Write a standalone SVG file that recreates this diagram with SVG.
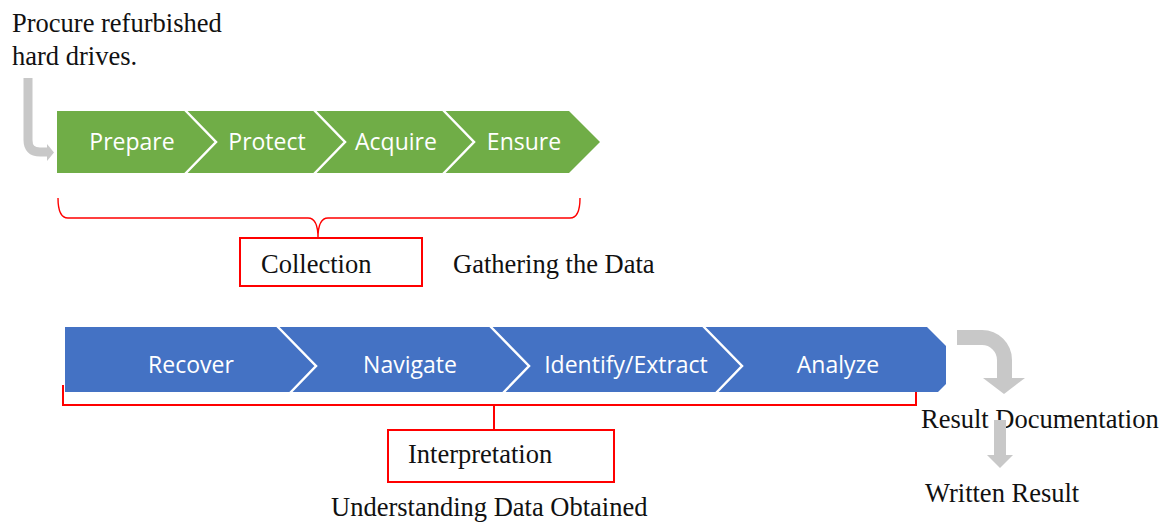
<svg xmlns="http://www.w3.org/2000/svg" width="1163" height="523" viewBox="0 0 1163 523">
  <style>
    .serif { font-family: "Liberation Serif", "Times New Roman", serif; font-size: 26.5px; fill: #111; }
    .step { font-family: "Open Sans", "Noto Sans", sans-serif; font-size: 23px; fill: #ffffff; text-anchor: middle; }
    .green { fill: #70AD47; }
    .blue { fill: #4472C4; }
    .sep { fill: none; stroke: #ffffff; stroke-width: 2.5; stroke-linejoin: miter; }
    .red { fill: none; stroke: #ff0000; stroke-width: 2; }
    .brace { fill: none; stroke: #ff0000; stroke-width: 1.4; }
    .gray { fill: none; stroke: #c8c8c8; }
    .grayfill { fill: #c8c8c8; }
  </style>

  <rect width="1163" height="523" fill="#ffffff"/>

  <!-- starting note -->
  <g id="procure">
    <text class="serif" x="12" y="32">Procure refurbished</text>
    <text class="serif" x="12" y="65">hard drives.</text>
  </g>

  <!-- collection process: green chevrons -->
  <g id="prepare">
    <polygon class="green" points="57,111 185,111 216,142 185,173 57,173"/>
    <text class="step" x="132" y="150">Prepare</text>
  </g>
  <g id="protect">
    <polygon class="green" points="185,111 314,111 345,142 314,173 185,173 216,142"/>
    <text class="step" x="267" y="150">Protect</text>
  </g>
  <g id="acquire">
    <polygon class="green" points="314,111 443,111 474,142 443,173 314,173 345,142"/>
    <text class="step" x="396" y="150">Acquire</text>
  </g>
  <g id="ensure">
    <polygon class="green" points="443,111 569,111 600,142 569,173 443,173 474,142"/>
    <text class="step" x="524" y="150">Ensure</text>
  </g>
  <g id="green-separators">
    <polyline class="sep" points="185,110 216,142 185,174"/>
    <polyline class="sep" points="314,110 345,142 314,174"/>
    <polyline class="sep" points="443,110 474,142 443,174"/>
  </g>

  <g id="collection">
    <rect class="red" x="240" y="238" width="182" height="48"/>
    <text class="serif" x="261" y="273">Collection</text>
  </g>
  <g id="gathering">
    <text class="serif" x="453" y="273">Gathering the Data</text>
  </g>

  <!-- interpretation process: blue chevrons -->
  <g id="recover">
    <polygon class="blue" points="65,327 277,327 316,366 290,392 65,392"/>
    <text class="step" x="191" y="373">Recover</text>
  </g>
  <g id="navigate">
    <polygon class="blue" points="277,327 490,327 529,366 503,392 290,392 316,366"/>
    <text class="step" x="410" y="373">Navigate</text>
  </g>
  <g id="identify">
    <polygon class="blue" points="490,327 703,327 742,366 716,392 503,392 529,366"/>
    <text class="step" x="626" y="373">Identify/Extract</text>
  </g>
  <g id="analyze">
    <polygon class="blue" points="703,327 927,327 946,346 946,384 938,392 716,392 742,366"/>
    <text class="step" x="838" y="373">Analyze</text>
  </g>
  <g id="blue-separators">
    <polyline class="sep" points="277,326 316,366 290,393"/>
    <polyline class="sep" points="490,326 529,366 503,393"/>
    <polyline class="sep" points="703,326 742,366 716,393"/>
  </g>

  <g id="interpretation">
    <rect class="red" x="388" y="430" width="226" height="52"/>
    <text class="serif" x="408" y="463">Interpretation</text>
  </g>
  <g id="understanding">
    <text class="serif" x="331" y="516">Understanding Data Obtained</text>
  </g>

  <g id="result-documentation">
    <text class="serif" x="921" y="428">Result Documentation</text>
  </g>
  <g id="written-result">
    <text class="serif" x="925" y="502">Written Result</text>
  </g>

  <!-- connectors: brackets and flow arrows -->
  <g id="connectors">
    <!-- curly brace under the collection steps -->
    <path class="brace" d="M58,198 Q58,218 68,218 H308 Q318,218 318,238 Q318,218 328,218 H570 Q580,218 580,198"/>
    <!-- square bracket under the interpretation steps -->
    <path class="red" d="M63,385 V405 H916 V392"/>
    <path class="red" d="M494,405 V430"/>

    <!-- procure to prepare -->
    <path class="gray" stroke-width="9" d="M28,78 V140 Q28,152 40,152 H48"/>
    <polygon class="grayfill" points="47,144 54,152.5 47,161"/>

    <!-- analyze to result documentation -->
    <path class="gray" stroke-width="15" d="M957,337.5 H982 A22.5,22.5 0 0 1 1004.5,360 V379"/>
    <polygon class="grayfill" points="983,378 1025,378 1004,394"/>

    <!-- result documentation to written result -->
    <rect class="grayfill" x="994" y="420" width="12" height="36"/>
    <polygon class="grayfill" points="987,455 1013,455 1000,468"/>
  </g>
</svg>
